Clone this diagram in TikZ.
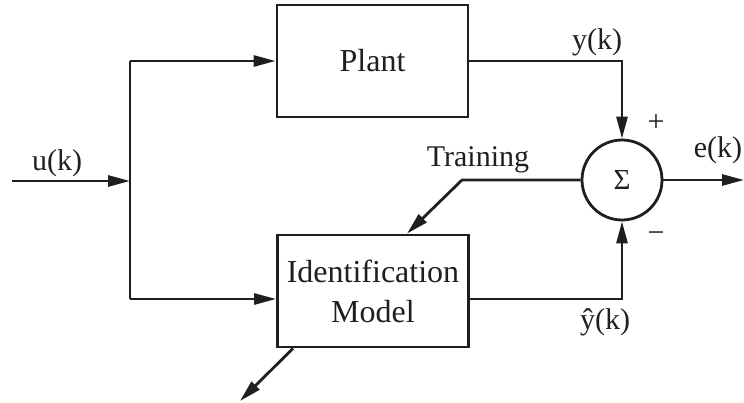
\documentclass[tikz,border=0pt]{standalone}
\usepackage{fontspec}
\setmainfont{Liberation Serif}
\usetikzlibrary{arrows.meta}
\begin{document}
\begin{tikzpicture}[x=1pt,y=-1pt, line width=2.8pt, draw=black!88, text=black!88,
  blk/.style={draw, minimum width=191pt, minimum height=112pt, inner sep=0pt, align=center,
    font=\fontsize{32}{40}\selectfont},
  arr/.style={-{Triangle[length=22pt,width=11pt]}},
  lbl/.style={font=\fontsize{30}{34}\selectfont, inner sep=0pt}]
\useasboundingbox (0,0) rectangle (744,403);
\node[blk] (plant) at (372.5,61) {Plant};
\node[blk] (model) at (373,291) {Identification\\Model};
\node[circle, draw, minimum size=80pt, inner sep=0pt, font=\fontsize{29}{30}\selectfont] (sum) at (622,180) {Σ};
\coordinate (uin) at (12,181);
\coordinate (sp) at (130,181);
\coordinate (top) at (130,61);
\coordinate (bot) at (130,299);
\coordinate (eout) at (744,180);
\coordinate (tr) at (462,180);
\coordinate (tx) at (407,0);
\coordinate (out) at (240,401);
\draw[arr] (uin) -- (sp);
\draw (top) -- (bot);
\draw[arr] (top) -- (plant.west);
\draw[arr] (bot) -- (bot -| model.west);
\draw[arr] (plant.east) -| (sum.north);
\draw[arr] ([yshift=-8pt]model.east) -| (sum.south);
\draw[arr] (sum.east) -- (eout);
\draw[arr] (sum.west) -- (tr) -- (model.north -| tx);
\draw[arr] ([xshift=-80pt]model.south) -- (out);
\node[lbl] (lu) at (57,163) {u(k)};
\node[lbl] (ly) at (597,42) {y(k)};
\node[lbl] (lp) at (656,123) {+};
\node[lbl] (lm) at (656,237) {−};
\node[lbl] (le) at (718,150) {e(k)};
\node[lbl] (lt) at (478,160) {Training};
\node[lbl] (lyh) at (605,322) {ŷ(k)};
\end{tikzpicture}
\end{document}
